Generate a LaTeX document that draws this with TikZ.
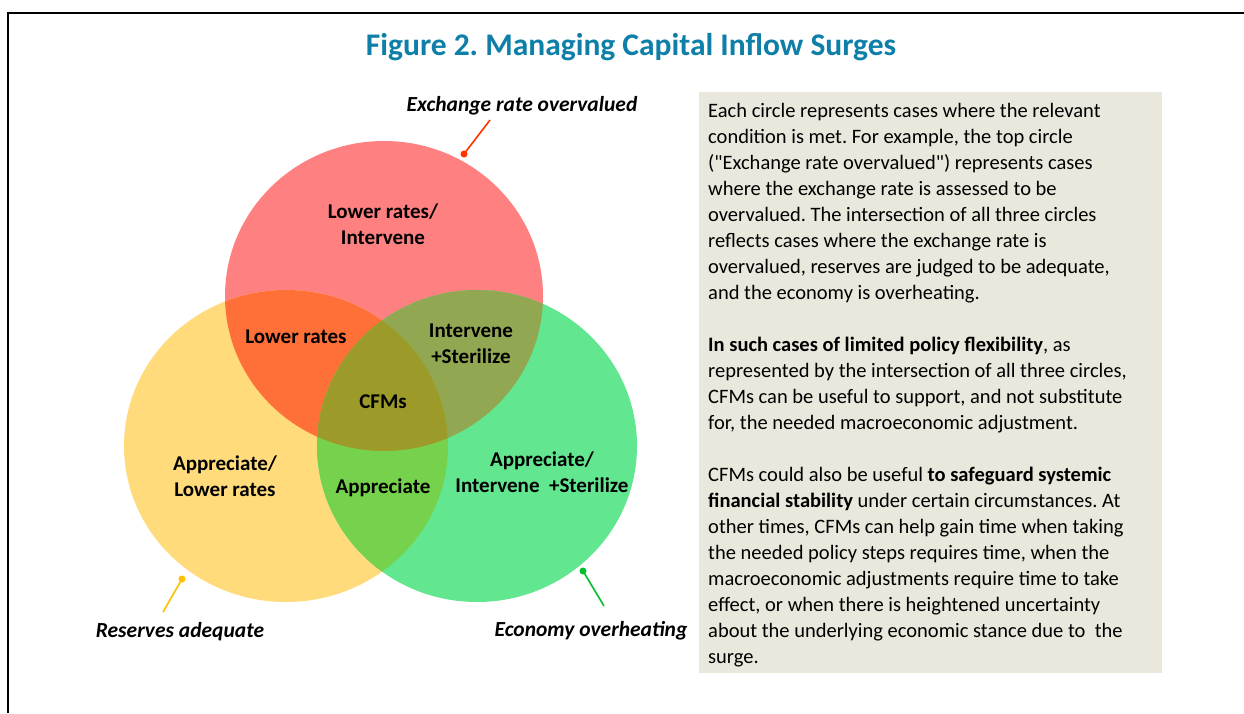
\documentclass[tikz,border=0pt]{standalone}
\usepackage{fontspec}
\setmainfont{Carlito}
\definecolor{titleblue}{HTML}{0E7FA8}
\definecolor{cR}{HTML}{FF8080}
\definecolor{cY}{HTML}{FFDB7C}
\definecolor{cG}{HTML}{62E690}
\definecolor{cRY}{HTML}{FF6F38}
\definecolor{cRG}{HTML}{92A752}
\definecolor{cYG}{HTML}{76D24D}
\definecolor{cRYG}{HTML}{9C9B2A}
\definecolor{boxbg}{HTML}{EAE8DC}
\definecolor{lnR}{HTML}{FF3300}
\definecolor{lnY}{HTML}{FFC000}
\definecolor{lnG}{HTML}{00C030}
\begin{document}
\frenchspacing
\begin{tikzpicture}[x=1pt,y=-1pt,
  region/.style={font=\bfseries\fontsize{21}{25.5}\selectfont, align=center, inner sep=0pt},
  outer/.style={font=\bfseries\itshape\fontsize{21.5}{24}\selectfont, inner sep=0pt},
  pointer/.style={line width=1.6pt},
  dotmark/.style={circle, inner sep=0pt, minimum size=7pt}]
\useasboundingbox (0,0) rectangle (1244,713);
\fill[white] (0,0) rectangle (1244,713);
\draw[line width=2.2pt] (8,713) -- (8,13) -- (1244,13);

% title
\node[font=\bfseries\fontsize{31.5}{36}\selectfont, text=titleblue, inner sep=0pt] (title) at (631,47) {Figure 2. Managing Capital Inflow Surges};

% circles
\coordinate (R) at (384,296);
\coordinate (Y) at (286,446);
\coordinate (G) at (477,446);
\def\Rc{(R) ellipse [x radius=159pt, y radius=155pt]}
\def\Yc{(Y) ellipse [x radius=162pt, y radius=156pt]}
\def\Gc{(G) ellipse [x radius=160pt, y radius=156pt]}
\fill[cR] \Rc;
\fill[cY] \Yc;
\fill[cG] \Gc;
\begin{scope}\clip \Rc; \fill[cRY] \Yc;\end{scope}
\begin{scope}\clip \Rc; \fill[cRG] \Gc;\end{scope}
\begin{scope}\clip \Yc; \fill[cYG] \Gc;\end{scope}
\begin{scope}\clip \Rc; \clip \Yc; \fill[cRYG] \Gc;\end{scope}

% region labels
\node[region] (rtop) at (383,224) {Lower rates/\\Intervene};
\node[region] (rry) at (296,337) {Lower rates};
\node[region] (rrg) at (471,344) {Intervene\\+Sterilize};
\node[region] (rall) at (383,402) {CFMs};
\node[region] (ry) at (225,476) {Appreciate/\\Lower rates};
\node[region] (ryg) at (383,488) {Appreciate};
\node[region] (rg) at (542,472) {Appreciate/\\Intervene\ \ +Sterilize};

% outer labels and pointers
\node[outer] (lR) at (522,106) {Exchange rate overvalued};
\node[outer] (lY) at (180,632) {Reserves adequate};
\node[outer] (lG) at (591,631) {Economy overheating};
\node[dotmark, fill=lnR] (dR) at (464,154) {};
\node[dotmark, fill=lnY] (dY) at (182,579) {};
\node[dotmark, fill=lnG] (dG) at (583,571) {};
\coordinate (eR) at (490,120);
\coordinate (eY) at (163,612);
\coordinate (eG) at (604,606);
\draw[pointer, lnR] (dR.center) -- (eR);
\draw[pointer, lnY] (dY.center) -- (eY);
\draw[pointer, lnG] (dG.center) -- (eG);

% explanatory box
\fill[boxbg] (699,92) rectangle (1162,673);
\node[anchor=north west, inner sep=0pt, align=left, font=\fontsize{20.5}{26}\selectfont] (txt) at (708,103.5) {%
Each circle represents cases where the relevant\\
condition is met. For example, the top circle\\
(\textquotedbl Exchange rate overvalued\textquotedbl) represents cases\\
where the exchange rate is assessed to be\\
overvalued. The intersection of all three circles\\
reflects cases where the exchange rate is\\
overvalued, reserves are judged to be adequate,\\
and the economy is overheating.\\[26pt]
\textbf{In such cases of limited policy flexibility}, as\\
represented by the intersection of all three circles,\\
CFMs can be useful to support, and not substitute\\
for, the needed macroeconomic adjustment.\\[26pt]
CFMs could also be useful \textbf{to safeguard systemic}\\
\textbf{financial stability} under certain circumstances. At\\
other times, CFMs can help gain time when taking\\
the needed policy steps requires time, when the\\
macroeconomic adjustments require time to take\\
effect, or when there is heightened uncertainty\\
about the underlying economic stance due to\ \ the\\
surge.};
\end{tikzpicture}
\end{document}
